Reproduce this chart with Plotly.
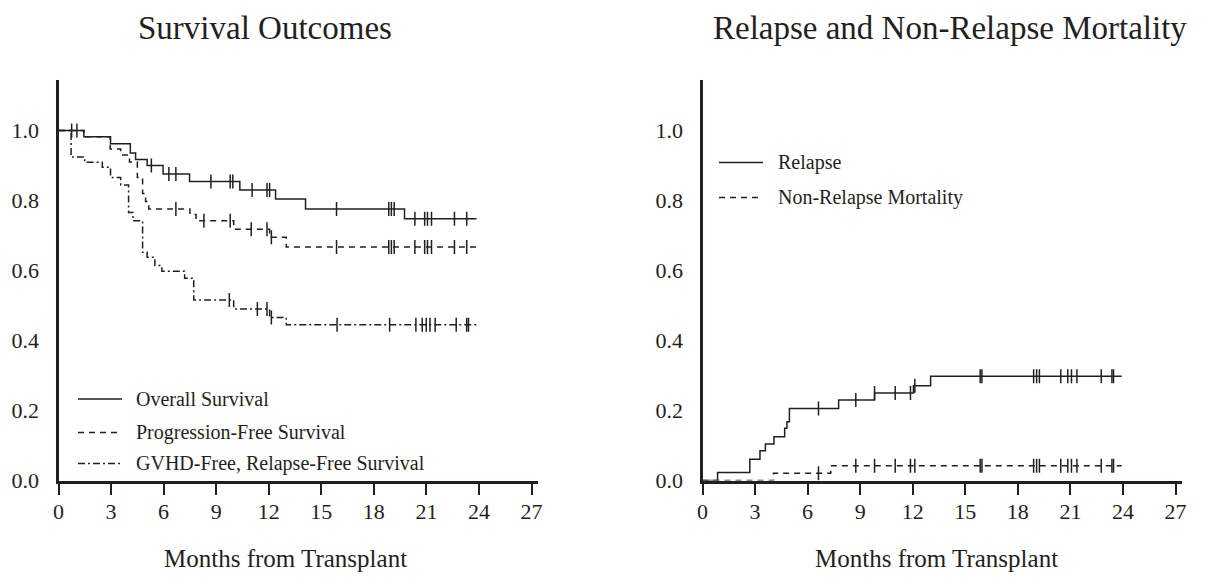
import plotly.graph_objects as go

# ---------------- data ----------------
x_ticks = [0, 3, 6, 9, 12, 15, 18, 21, 24, 27]
y_ticks = [0.0, 0.2, 0.4, 0.6, 0.8, 1.0]

# Left panel: survival outcomes (step times in months, survival after step)
os_t = [0, 1.45, 2.97, 4.10, 4.40, 5.06, 5.97, 7.48, 10.35, 12.39, 14.10, 19.75, 23.86]
os_s = [1.0, 0.982, 0.962, 0.936, 0.917, 0.900, 0.876, 0.854, 0.830, 0.804, 0.776, 0.748, 0.748]
os_cens = [0.75, 1.05, 5.3, 6.3, 6.7, 8.7, 9.8, 9.95, 11.05, 11.9, 12.05, 15.87, 18.85, 19.0, 19.16,
           20.34, 20.9, 21.06, 21.29, 22.6, 23.3]

pfs_t = [0, 1.45, 2.95, 3.55, 4.05, 4.50, 4.80, 4.97, 5.15, 7.50, 7.85, 10.0, 12.05, 13.0, 23.86]
pfs_s = [1.0, 0.982, 0.947, 0.930, 0.910, 0.866, 0.820, 0.797, 0.776, 0.760, 0.742, 0.718, 0.695, 0.667, 0.667]
pfs_cens = [6.7, 8.3, 9.8, 11.0, 11.9, 12.15, 15.87, 18.85, 19.0, 19.16, 20.34, 20.9, 21.06, 21.29, 22.6, 23.3]

grfs_t = [0, 0.72, 1.5, 2.5, 2.97, 3.55, 4.0, 4.25, 4.8, 5.06, 5.5, 5.9, 7.2, 7.72, 10.0, 12.05, 13.0, 23.86]
grfs_s = [1.0, 0.924, 0.909, 0.895, 0.866, 0.844, 0.766, 0.742, 0.652, 0.638, 0.614, 0.598, 0.578, 0.516,
          0.490, 0.466, 0.445, 0.445]
grfs_cens = [9.75, 11.35, 11.9, 12.15, 15.9, 18.9, 20.4, 20.76, 20.99, 21.2, 21.5, 22.7, 23.3, 23.4]

# Right panel: cumulative incidence
rel_t = [0, 0.86, 2.70, 3.28, 3.59, 4.08, 4.69, 4.82, 4.96, 7.77, 9.82, 12.04, 13.02, 23.93]
rel_s = [0.0, 0.023, 0.061, 0.085, 0.104, 0.125, 0.149, 0.168, 0.206, 0.230, 0.250, 0.271, 0.298, 0.298]
nrm_t = [0, 4.05, 7.32, 23.93]
nrm_s = [0.0, 0.021, 0.042, 0.042]
cr_cens = [6.62, 8.75, 9.82, 11.0, 11.87, 12.12, 15.85, 15.95, 18.9, 19.07, 19.23, 20.45, 20.85, 21.06,
           21.37, 22.76, 23.37, 23.46]

left_title = "Survival Outcomes"
right_title = "Relapse and Non-Relapse Mortality"
x_title = "Months from Transplant"
left_legend = ["Overall Survival", "Progression-Free Survival", "GVHD-Free, Relapse-Free Survival"]
right_legend = ["Relapse", "Non-Relapse Mortality"]

# ---------------- styling ----------------
W, H = 1212, 579
OFF = 8  # page body margin offset
INK = "#231f20"
FONT = "Liberation Serif, Times New Roman, serif"
DASH = "6px,5px"
DASHDOT = "7px,3px,2px,3px"


def px(xp):
    return (xp - OFF) / W


def py(yp):
    return 1 - (yp - OFF) / H


def step_at(ts, ss, t):
    val = ss[0]
    for ti, si in zip(ts, ss):
        if ti <= t:
            val = si
    return val


fig = go.Figure()


def add_curve(ts, ss, cens, dash, xa, ya):
    fig.add_trace(go.Scatter(x=ts, y=ss, mode="lines", line=dict(shape="hv", color=INK, width=1.5, dash=dash),
                             xaxis=xa, yaxis=ya, showlegend=False, hoverinfo="skip"))
    fig.add_trace(go.Scatter(x=cens, y=[step_at(ts, ss, c) for c in cens], mode="markers",
                             marker=dict(symbol="line-ns", size=10, line=dict(color=INK, width=1.5)),
                             xaxis=xa, yaxis=ya, showlegend=False, hoverinfo="skip"))


add_curve(os_t, os_s, os_cens, "solid", "x", "y")
add_curve(pfs_t, pfs_s, pfs_cens, DASH, "x", "y")
add_curve(grfs_t, grfs_s, grfs_cens, DASHDOT, "x", "y")
add_curve(rel_t, rel_s, cr_cens, "solid", "x2", "y2")
add_curve(nrm_t, nrm_s, cr_cens, DASH, "x2", "y2")

y_bot, y_top = 480.5, 80.0
yr = (y_bot - y_top) / 350.0
xl0, xl1 = 58.5, 538.0
xr0, xr1 = 702.5, 1182.0
xrng = (xl1 - xl0) / 17.52

xcommon = dict(range=[0, xrng], tickvals=x_ticks, showline=True, linewidth=3, linecolor=INK,
               ticks="outside", ticklen=11, tickwidth=2, tickcolor=INK, showgrid=False, zeroline=False,
               tickfont=dict(family=FONT, size=22, color=INK), ticklabelstandoff=-2,
               fixedrange=True, automargin=False)
ycommon = dict(range=[0, yr], tickvals=y_ticks, tickformat=".1f", showline=True, linewidth=3, linecolor=INK,
               ticks="", showgrid=False, zeroline=False, tickfont=dict(family=FONT, size=22, color=INK),
               ticklabelstandoff=12, fixedrange=True, automargin=False)

fig.update_layout(
    width=W, height=H, margin=dict(l=0, r=0, t=0, b=0, pad=0, autoexpand=False),
    paper_bgcolor="white", plot_bgcolor="white",
    xaxis=dict(domain=[px(xl0), px(xl1)], anchor="y", **xcommon),
    yaxis=dict(domain=[py(y_bot), py(y_top)], anchor="x", **ycommon),
    xaxis2=dict(domain=[px(xr0), px(xr1)], anchor="y2", **xcommon),
    yaxis2=dict(domain=[py(y_bot), py(y_top)], anchor="x2", **ycommon),
    showlegend=False,
)

ann = []
ann.append(dict(text=left_title, x=px(265), y=py(28), xref="paper", yref="paper", showarrow=False,
                xanchor="center", yanchor="middle", font=dict(family=FONT, size=33, color=INK)))
ann.append(dict(text=right_title, x=px(950), y=py(28), xref="paper", yref="paper", showarrow=False,
                xanchor="center", yanchor="middle", font=dict(family=FONT, size=33, color=INK)))
for cx in (285, 936):
    ann.append(dict(text=x_title, x=px(cx), y=py(558), xref="paper", yref="paper", showarrow=False,
                    xanchor="center", yanchor="middle", font=dict(family=FONT, size=25, color=INK)))

shapes = []
for label, dash, yp in zip(left_legend, ["solid", DASH, DASHDOT], [399, 432.5, 463.5]):
    shapes.append(dict(type="line", xref="paper", yref="paper", x0=px(78), x1=px(122), y0=py(yp), y1=py(yp),
                       line=dict(color=INK, width=1.5, dash=dash)))
    ann.append(dict(text=label, x=px(134), y=py(yp), xref="paper", yref="paper", showarrow=False,
                    xanchor="left", yanchor="middle", font=dict(family=FONT, size=20, color=INK)))
for label, dash, yp in zip(right_legend, ["solid", DASH], [162.5, 197.5]):
    shapes.append(dict(type="line", xref="paper", yref="paper", x0=px(719), x1=px(763), y0=py(yp), y1=py(yp),
                       line=dict(color=INK, width=1.5, dash=dash)))
    ann.append(dict(text=label, x=px(776), y=py(yp), xref="paper", yref="paper", showarrow=False,
                    xanchor="left", yanchor="middle", font=dict(family=FONT, size=20, color=INK)))

fig.update_layout(annotations=ann, shapes=shapes)
fig.write_html("out.html")
